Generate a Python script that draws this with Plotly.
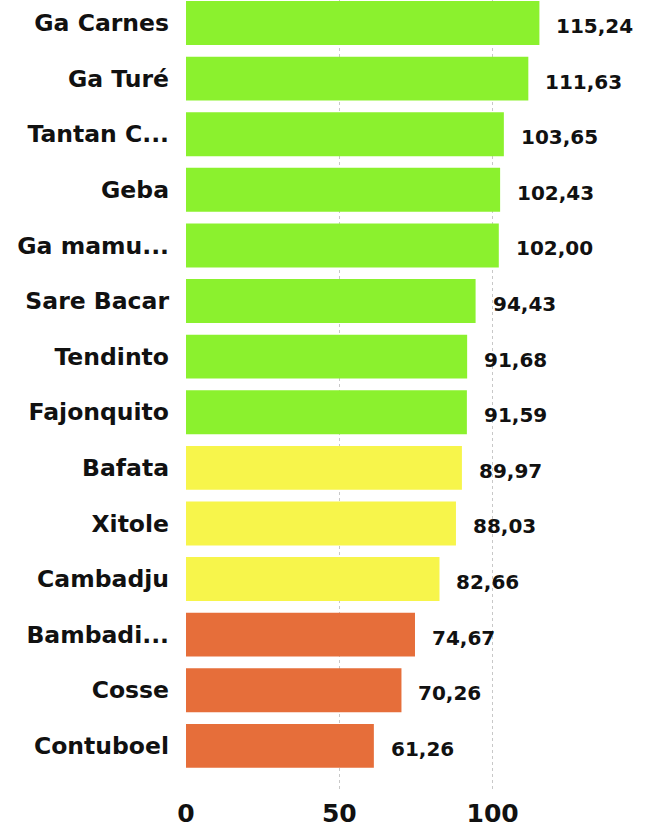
import plotly.graph_objects as go

# values per locality (top to bottom)
localities = ["Ga Carnes", "Ga Turé", "Tantan C...", "Geba", "Ga mamu...",
              "Sare Bacar", "Tendinto", "Fajonquito", "Bafata", "Xitole",
              "Cambadju", "Bambadi...", "Cosse", "Contuboel"]
values = [115.24, 111.63, 103.65, 102.43, 102.00, 94.43, 91.68, 91.59,
          89.97, 88.03, 82.66, 74.67, 70.26, 61.26]
levels = ["high"] * 8 + ["mid"] * 3 + ["low"] * 3
x_ticks = [0, 50, 100]

level_colors = {"high": "#8bf12e", "mid": "#f7f54b", "low": "#e66e3a"}
bar_colors = [level_colors[lv] for lv in levels]

fig = go.Figure(go.Bar(
    x=values, y=localities, orientation="h",
    marker=dict(color=bar_colors, line=dict(width=0)),
    hoverinfo="skip",
))

# value labels just right of each bar
for name, v in zip(localities, values):
    fig.add_annotation(
        x=v, y=name, text=f"{v:.2f}".replace(".", ","),
        xanchor="left", showarrow=False, xshift=15, yshift=-3,
        font=dict(family="DejaVu Sans", size=20, color="#111111", weight="bold"),
    )

fig.update_layout(
    width=646, height=827,
    margin=dict(l=186, r=0, t=0, b=35),
    plot_bgcolor="white", paper_bgcolor="white",
    bargap=0.21,
    showlegend=False,
    font=dict(family="DejaVu Sans", color="#111111"),
)
fig.update_xaxes(
    range=[0, 150], tickvals=x_ticks,
    showgrid=True, gridcolor="#c8c8c8", griddash="dot", gridwidth=1,
    zeroline=False, showline=False, ticks="",
    ticklabelstandoff=4,
    tickfont=dict(size=25, weight="bold"),
)
fig.update_yaxes(
    categoryorder="array", categoryarray=localities,
    range=[13.83, -0.414],
    showgrid=False, zeroline=False, showline=False, ticks="",
    ticklabelstandoff=16,
    tickfont=dict(size=23.5, weight="bold"),
)

# drop the default page margin so the figure sits at the window's corner
fig.write_html("out.html", config={"displayModeBar": False},
               post_script="document.body.style.margin='0';")
